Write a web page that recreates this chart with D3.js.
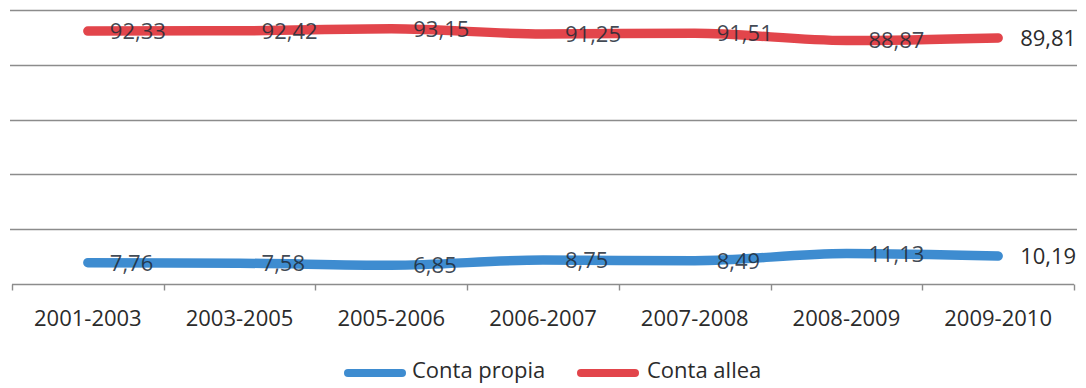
<!DOCTYPE html>
<html>
<head>
<meta charset="utf-8">
<script src="https://cdn.jsdelivr.net/npm/d3@7"></script>
<style>
  html, body { margin: 0; padding: 0; background: #ffffff; }
  svg { display: block; }
  text { font-family: "Open Sans", "Noto Sans", sans-serif; }
</style>
</head>
<body>
<svg id="chart" width="1086" height="388"></svg>
<script>
// Periods on the category axis
const periods = ["2001-2003", "2003-2005", "2005-2006", "2006-2007", "2007-2008", "2008-2009", "2009-2010"];
// Percentage shares per period
const contaPropia = [7.76, 7.58, 6.85, 8.75, 8.49, 11.13, 10.19];
const contaAllea  = [92.33, 92.42, 93.15, 91.25, 91.51, 88.87, 89.81];
// Value gridlines (0 is the axis itself)
const gridValues = [20, 40, 60, 80, 100];

const series = [
  { name: "Conta propia", values: contaPropia, color: "#3e8cd0" },
  { name: "Conta allea",  values: contaAllea,  color: "#e2454b" }
];

const svg = d3.select("#chart");
const plot = { left: 12, right: 1074, top: 10, bottom: 284 };

const x = d3.scaleBand().domain(periods).range([plot.left, plot.right]);
const y = d3.scaleLinear().domain([0, 100]).range([plot.bottom, plot.top]);
const cx = d => x(d) + x.bandwidth() / 2;

// Horizontal gridlines
svg.append("g")
  .selectAll("line")
  .data(gridValues)
  .join("line")
  .attr("x1", 10).attr("x2", 1077)
  .attr("y1", d => Math.round(y(d)) + 0.5)
  .attr("y2", d => Math.round(y(d)) + 0.5)
  .attr("stroke", "#8c8c8c")
  .attr("stroke-width", 1.4);

// Category axis with ticks at band boundaries
const axisY = Math.round(y(0)) + 0.5;
const axis = svg.append("g");
axis.append("line")
  .attr("x1", plot.left).attr("x2", plot.right)
  .attr("y1", axisY).attr("y2", axisY)
  .attr("stroke", "#8c8c8c").attr("stroke-width", 1.4);
axis.selectAll("line.tick")
  .data(periods.map(p => x(p)).concat([plot.right]))
  .join("line")
  .attr("class", "tick")
  .attr("x1", d => Math.round(d) + 0.5).attr("x2", d => Math.round(d) + 0.5)
  .attr("y1", axisY).attr("y2", axisY + 6)
  .attr("stroke", "#8c8c8c").attr("stroke-width", 1.4);
axis.selectAll("text")
  .data(periods)
  .join("text")
  .attr("x", d => cx(d))
  .attr("y", 326)
  .attr("text-anchor", "middle")
  .attr("font-size", 22)
  .attr("fill", "#2b2b2b")
  .text(d => d);

// Series lines
const line = d3.line()
  .x((v, i) => cx(periods[i]))
  .y(v => y(v))
  .curve(d3.curveMonotoneX);

svg.append("g")
  .selectAll("path")
  .data(series)
  .join("path")
  .attr("d", s => line(s.values))
  .attr("fill", "none")
  .attr("stroke", s => s.color)
  .attr("stroke-width", 9.5)
  .attr("stroke-linecap", "round")
  .attr("stroke-linejoin", "round");

// Value labels, placed to the right of each point
const fmt = v => v.toFixed(2).replace(".", ",");
series.forEach(s => {
  svg.append("g")
    .selectAll("text")
    .data(s.values)
    .join("text")
    .attr("x", (v, i) => cx(periods[i]) + 22)
    .attr("y", v => y(v) + 8)
    .attr("font-size", 22)
    .attr("fill", (v, i) => i === periods.length - 1 ? "#2b2b2b" : "#1e2a36")
    .attr("fill-opacity", (v, i) => i === periods.length - 1 ? 1 : 0.85)
    .text(v => fmt(v));
});

// Legend
const legend = svg.append("g");
const legendItems = [
  { s: series[0], x: 348, tx: 412 },
  { s: series[1], x: 581, tx: 647 }
];
legendItems.forEach(it => {
  legend.append("line")
    .attr("x1", it.x).attr("x2", it.x + 54)
    .attr("y1", 373).attr("y2", 373)
    .attr("stroke", it.s.color)
    .attr("stroke-width", 8)
    .attr("stroke-linecap", "round");
  legend.append("text")
    .attr("x", it.tx).attr("y", 378)
    .attr("font-size", 22)
    .attr("fill", "#2b2b2b")
    .text(it.s.name);
});
</script>
</body>
</html>
